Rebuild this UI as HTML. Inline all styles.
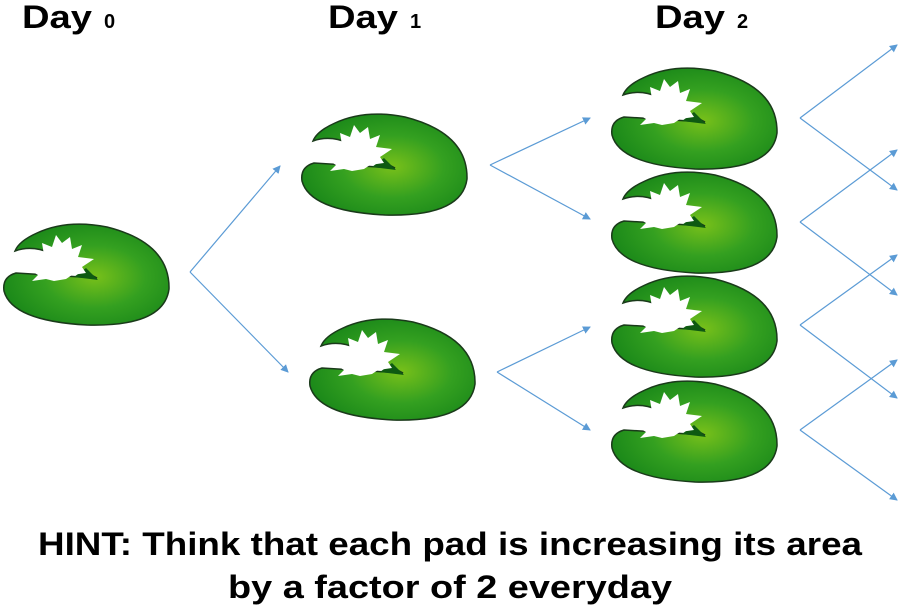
<!DOCTYPE html>
<html><head><meta charset="utf-8"><style>html,body{margin:0;padding:0;background:#fff}svg{display:block}</style></head>
<body>
<svg width="899" height="607" viewBox="0 0 899 607" xmlns="http://www.w3.org/2000/svg">
<defs>
<radialGradient id="g" cx="0.55" cy="0.52" r="0.62">
<stop offset="0" stop-color="#78c01a"/><stop offset="0.5" stop-color="#34a020"/><stop offset="1" stop-color="#168418"/>
</radialGradient>
<g id="pad">
<path d="M95,55 L14,50 Q0,54 2,68 Q10,98 85,102 Q162,104 167,66 Q168,20 105,4 Q65,-4 35,10 Q17,18 13,28 Q30,22 48,30 Z" fill="url(#g)" stroke="#1a3a1a" stroke-width="1.5"/>
<path d="M72,54 L96,57 L84,45 Z" fill="#0e5a12"/>
<path d="M26,46 L36,42 L30,30 L42,32 L40,20 L50,24 L54,12 L60,20 L68,14 L70,26 L80,22 L76,34 L92,36 L80,44 L84,50 L70,52 L64,56 L52,58 L44,56 L30,58 L36,52 Z" fill="#fff"/>
</g>
<marker id="a" markerWidth="8" markerHeight="8" refX="7" refY="4" orient="auto" markerUnits="userSpaceOnUse"><path d="M0,0 L8,4 L0,8 Z" fill="#5b9bd5"/></marker>
</defs>
<g font-family="Liberation Sans, sans-serif" font-weight="bold" fill="#000">
<text x="22" y="28" font-size="32"><tspan textLength="70" lengthAdjust="spacingAndGlyphs">Day</tspan> <tspan x="104" font-size="20">0</tspan></text>
<text x="328" y="28" font-size="32"><tspan textLength="70" lengthAdjust="spacingAndGlyphs">Day</tspan> <tspan x="410" font-size="20">1</tspan></text>
<text x="655" y="28" font-size="32"><tspan textLength="70" lengthAdjust="spacingAndGlyphs">Day</tspan> <tspan x="737" font-size="20">2</tspan></text>
<text x="38" y="555" font-size="32" textLength="824" lengthAdjust="spacingAndGlyphs">HINT: Think that each pad is increasing its area</text>
<text x="228" y="598" font-size="32" textLength="444" lengthAdjust="spacingAndGlyphs">by a factor of 2 everyday</text>
</g>
<use href="#pad" x="2" y="223"/>
<use href="#pad" x="300" y="113"/>
<use href="#pad" x="308" y="318"/>
<use href="#pad" x="610" y="67"/>
<use href="#pad" x="610" y="171"/>
<use href="#pad" x="610" y="275"/>
<use href="#pad" x="610" y="380"/>
<g stroke="#5b9bd5" stroke-width="1.2" fill="none" marker-end="url(#a)">
<path d="M190,272 L280,166"/><path d="M190,272 L288,372"/>
<path d="M490,165 L590,118"/><path d="M490,165 L590,219"/>
<path d="M497,372 L590,327"/><path d="M497,372 L590,430"/>
<path d="M800,118 L897,45"/><path d="M800,118 L897,190"/>
<path d="M800,222 L897,150"/><path d="M800,222 L897,295"/>
<path d="M800,325 L897,255"/><path d="M800,325 L897,398"/>
<path d="M800,430 L897,360"/><path d="M800,430 L897,500"/>
</g>
</svg>
</body></html>
